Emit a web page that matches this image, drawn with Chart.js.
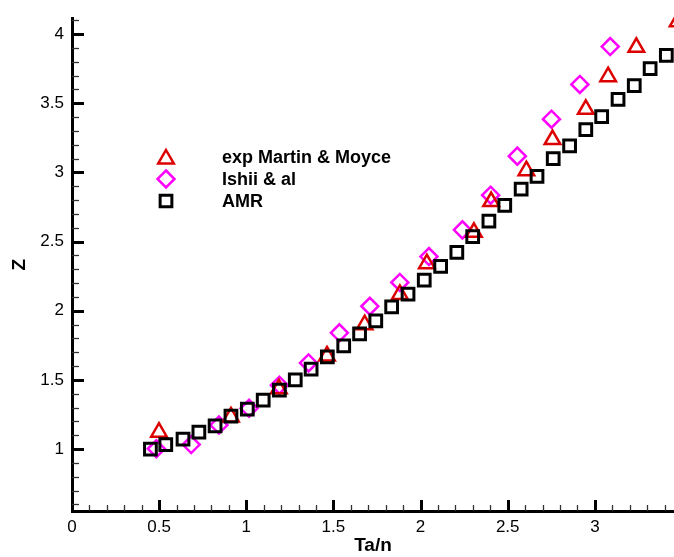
<!DOCTYPE html>
<html>
<head>
<meta charset="utf-8">
<script src="https://cdn.jsdelivr.net/npm/chart.js@4/dist/chart.umd.min.js"></script>
<style>
  html, body { margin: 0; padding: 0; background: #fff; }
  #wrap { width: 674px; height: 557px; }
</style>
</head>
<body>
<div id="wrap"><canvas id="myChart" width="674" height="557"></canvas></div>
<script>
const fontFamily = "'Liberation Sans', Arial, sans-serif";
const red = "rgb(221,0,0)";
const magenta = "#ff00ff";

// data
const martinX = [0.499, 0.912, 1.187, 1.463, 1.679, 1.881, 2.036, 2.306, 2.405, 2.607, 2.757, 2.948, 3.076, 3.238, 3.475];
const martinZ = [1.123, 1.233, 1.436, 1.674, 1.900, 2.118, 2.341, 2.567, 2.790, 3.013, 3.238, 3.456, 3.692, 3.905, 4.090];

const ishiiX = [0.484, 0.684, 0.843, 1.016, 1.190, 1.357, 1.534, 1.709, 1.881, 2.048, 2.240, 2.402, 2.555, 2.751, 2.914, 3.088];
const ishiiZ = [1.003, 1.033, 1.174, 1.295, 1.462, 1.623, 1.841, 2.033, 2.205, 2.392, 2.585, 2.836, 3.118, 3.385, 3.636, 3.910];

const amrX = [0.450, 0.538, 0.637, 0.728, 0.821, 0.912, 1.006, 1.097, 1.190, 1.281, 1.372, 1.465, 1.559, 1.650, 1.743, 1.834, 1.928,
              2.021, 2.115, 2.208, 2.299, 2.392, 2.483, 2.577, 2.668, 2.761, 2.855, 2.948, 3.039, 3.133, 3.226, 3.317, 3.410];
const amrZ = [1.000, 1.033, 1.072, 1.123, 1.169, 1.238, 1.290, 1.354, 1.426, 1.500, 1.579, 1.667, 1.746, 1.833, 1.928, 2.028, 2.121,
              2.221, 2.321, 2.423, 2.536, 2.649, 2.762, 2.879, 2.972, 3.100, 3.192, 3.310, 3.403, 3.528, 3.628, 3.751, 3.846];

const xTicks = [0, 0.5, 1, 1.5, 2, 2.5, 3];
const yTicks = [1, 1.5, 2, 2.5, 3, 3.5, 4];
const legendLabels = ["exp Martin & Moyce", "Ishii & al", "AMR"];

function pts(xs, ys) {
    return xs.map((x, i) => ({ x: x, y: ys[i] }));
}

// marker path helpers (for legend)
function markerPath(ctx, style, x, y, r) {
    ctx.beginPath();
    if (style === "triangle") {
        ctx.moveTo(x, y - r);
        ctx.lineTo(x + r * 0.866, y + r / 2);
        ctx.lineTo(x - r * 0.866, y + r / 2);
        ctx.closePath();
    } else if (style === "rectRot") {
        ctx.moveTo(x, y - r);
        ctx.lineTo(x + r, y);
        ctx.lineTo(x, y + r);
        ctx.lineTo(x - r, y);
        ctx.closePath();
    } else {
        const s = r * Math.SQRT1_2;
        ctx.rect(x - s, y - s, 2 * s, 2 * s);
    }
}

// inward ticks + legend drawn on top of the plot
const decorations = {
    id: "decorations",
    afterDatasetsDraw(chart) {
        const ctx = chart.ctx;
        const xs = chart.scales.x;
        const ys = chart.scales.y;
        const area = chart.chartArea;
        ctx.save();
        // x ticks every 0.1
        for (let i = 0; i * 0.1 <= xs.max + 1e-9; i++) {
            const px = Math.round(xs.getPixelForValue(i * 0.1)) + 0.5;
            const major = i % 5 === 0;
            ctx.lineWidth = major ? 3 : 1.3;
            ctx.strokeStyle = major ? "#000" : "#333";
            ctx.beginPath();
            ctx.moveTo(px, area.bottom);
            ctx.lineTo(px, area.bottom - (major ? 11 : 6));
            ctx.stroke();
        }
        // y ticks every 0.1
        for (let i = Math.ceil(ys.min * 10); i * 0.1 <= ys.max + 1e-9; i++) {
            const py = Math.round(ys.getPixelForValue(i * 0.1)) + 0.5;
            const major = i % 5 === 0;
            ctx.lineWidth = major ? 3 : 1.3;
            ctx.strokeStyle = major ? "#000" : "#333";
            ctx.beginPath();
            ctx.moveTo(area.left, py);
            ctx.lineTo(area.left + (major ? 12 : 7), py);
            ctx.stroke();
        }
        // legend
        const sets = chart.data.datasets;
        ctx.font = "bold 18px " + fontFamily;
        ctx.textBaseline = "middle";
        ctx.textAlign = "left";
        const rowY = [157, 179, 201];
        sets.forEach((ds, row) => {
            ctx.lineWidth = ds.borderWidth;
            ctx.strokeStyle = ds.borderColor;
            markerPath(ctx, ds.pointStyle, 166, rowY[row] + (ds.pointStyle === "triangle" ? 2 : 0), ds.pointRadius);
            ctx.stroke();
            ctx.fillStyle = "#000";
            ctx.fillText(legendLabels[row], 222, rowY[row] + 1);
        });
        ctx.restore();
    }
};

const data = {
    datasets: [{
        label: legendLabels[0],
        data: pts(martinX, martinZ),
        pointStyle: "triangle",
        pointRadius: 9,
        borderWidth: 2.5,
        borderColor: red,
        backgroundColor: "rgba(0,0,0,0)",
        order: 1,
        clip: false
    }, {
        label: legendLabels[1],
        data: pts(ishiiX, ishiiZ),
        pointStyle: "rectRot",
        pointRadius: 8.5,
        borderWidth: 2.5,
        borderColor: magenta,
        backgroundColor: "rgba(0,0,0,0)",
        order: 2,
        clip: false
    }, {
        label: legendLabels[2],
        data: pts(amrX, amrZ),
        pointStyle: "rect",
        pointRadius: 8.3,
        borderWidth: 3,
        borderColor: "#000",
        backgroundColor: "rgba(0,0,0,0)",
        order: 0,
        clip: false
    }]
};

const config = {
    type: "scatter",
    data: data,
    options: {
        responsive: false,
        animation: false,
        events: [],
        layout: { autoPadding: false, padding: { top: 17, right: 0, bottom: 0, left: 0 } },
        plugins: {
            legend: { display: false },
            tooltip: { enabled: false },
            title: { display: false }
        },
        scales: {
            x: {
                type: "linear",
                position: "bottom",
                min: 0,
                max: 3.454,
                afterBuildTicks: s => { s.ticks = xTicks.map(v => ({ value: v })); },
                afterFit: s => { s.height = 46; },
                ticks: {
                    color: "#000",
                    padding: 6,
                    font: { family: fontFamily, size: 17 },
                    callback: v => String(v)
                },
                grid: { display: false, drawTicks: false },
                border: { display: true, color: "#000", width: 3 },
                title: {
                    display: true,
                    text: "Ta/n",
                    color: "#000",
                    padding: 0,
                    font: { family: fontFamily, size: 19, weight: "bold" }
                }
            },
            y: {
                type: "linear",
                position: "left",
                min: 0.553,
                max: 4.115,
                afterBuildTicks: s => { s.ticks = yTicks.map(v => ({ value: v })); },
                afterFit: s => { s.width = 72; },
                ticks: {
                    color: "#000",
                    padding: 8,
                    font: { family: fontFamily, size: 17 },
                    callback: v => String(v)
                },
                grid: { display: false, drawTicks: false },
                border: { display: true, color: "#000", width: 3 },
                title: {
                    display: true,
                    text: "Z",
                    color: "#000",
                    padding: { top: 8, bottom: 0 },
                    font: { family: fontFamily, size: 19, weight: "bold" }
                }
            }
        }
    },
    plugins: [decorations]
};

const myChart = new Chart("myChart", config);
</script>
</body>
</html>
